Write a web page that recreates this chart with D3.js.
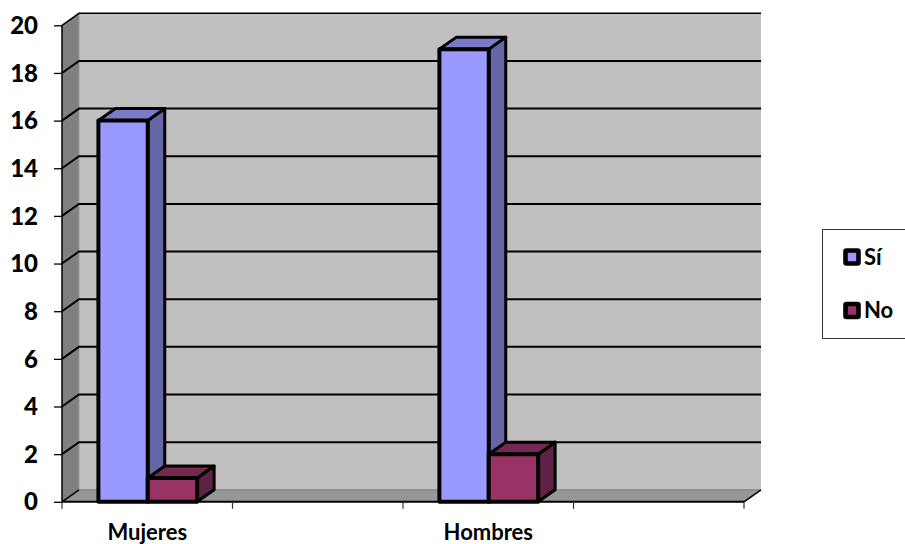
<!DOCTYPE html>
<html><head><meta charset="utf-8">
<script src="https://cdn.jsdelivr.net/npm/d3@7"></script>
<style>html,body{margin:0;padding:0;background:#fff}svg{display:block}text{font-family:Lato,"Open Sans",sans-serif;font-weight:700;fill:#000}</style>
</head><body><svg id="c" width="905" height="544"></svg>
<script>
const categories = ["Mujeres", " ", "Hombres", "  "];
const seriesNames = ["Sí", "No"];
const siValues = [16, null, 19, null];
const noValues = [1, null, 2, null];
const yTicks = [0,2,4,6,8,10,12,14,16,18,20];

const colors = {
  "Sí": {front:"#9999ff", top:"#7a7ac8", side:"#6666a6"},
  "No": {front:"#993366", top:"#752850", side:"#5f2145"}
};
const dx = 17, dy = -12;
const svg = d3.select("#c");
const x = d3.scaleBand().domain(categories).range([62,744]);
const y = d3.scaleLinear().domain([0,20]).range([501.8,25.3]);
const inner = d3.scaleBand().domain(seriesNames).range([x.bandwidth()*0.2135, x.bandwidth()*0.7925]);
const L=x.range()[0], R=x.range()[1], B=y(0), T=y(20);
const poly=(pts,fill,stroke,sw)=>svg.append("polygon").attr("points",pts.map(p=>p.join(",")).join(" "))
  .attr("fill",fill).attr("stroke",stroke||"none").attr("stroke-width",sw||0).attr("stroke-linejoin","round");

// walls
poly([[L+dx,T+dy],[R+dx,T+dy],[R+dx,B+dy],[L+dx,B+dy]],"#c0c0c0");
poly([[L,T],[L+dx,T+dy],[L+dx,B+dy],[L,B]],"#808080");
poly([[L,B],[L+dx,B+dy],[R+dx,B+dy],[R,B]],"#969696");
svg.append("line").attr("x1",L+dx).attr("x2",L+dx).attr("y1",T+dy).attr("y2",B+dy).attr("stroke","#9a9a9a").attr("stroke-width",1);
svg.append("line").attr("x1",L+dx).attr("x2",R+dx).attr("y1",B+dy).attr("y2",B+dy).attr("stroke","#7a7a7a").attr("stroke-width",1);

// gridlines
yTicks.forEach(t=>{
  if(t===0) return;
  svg.append("polyline").attr("fill","none").attr("stroke","#000").attr("stroke-width",t===20?1.5:2)
    .attr("points",[[L,y(t)],[L+dx,y(t)+dy],[R+dx,y(t)+dy]].map(p=>p.join(",")).join(" "));
});
svg.append("polyline").attr("fill","none").attr("stroke","#000").attr("stroke-width",1.5)
  .attr("points",[[L,B],[L+dx,B+dy]].map(p=>p.join(",")).join(" "));
svg.append("polyline").attr("fill","none").attr("stroke","#000").attr("stroke-width",1.5)
  .attr("points",[[R,B],[R+dx,B+dy]].map(p=>p.join(",")).join(" "));

// axes
const yAxis = d3.axisLeft(y).tickValues(yTicks).tickSize(8).tickPadding(16).tickFormat(d3.format("d"));
const gy = svg.append("g").attr("transform",`translate(${L},0)`).call(yAxis);
gy.select(".domain").attr("stroke","#000").attr("stroke-width",1.5).attr("d",`M0,${T}V${B}`);
gy.selectAll(".tick line").attr("stroke","#000").attr("stroke-width",1.3);
gy.selectAll("text").style("font-size","24px").style("font-weight","900").attr("dy","0.34em");

const gx = svg.append("g").attr("transform",`translate(0,${B})`);
gx.append("line").attr("x1",L).attr("x2",R).attr("stroke","#000").attr("stroke-width",2);
const xEdges = categories.map(c=>x(c)).concat([R]);
gx.selectAll("line.t").data(xEdges).join("line").attr("class","t")
  .attr("x1",d=>d).attr("x2",d=>d).attr("y1",0).attr("y2",7).attr("stroke","#333").attr("stroke-width",1.2);
gx.selectAll("text").data(categories).join("text")
  .attr("x",d=>x(d)+x.bandwidth()/2).attr("y",38).attr("text-anchor","middle")
  .style("font-size","22px").text(d=>d.trim());

// bars
const rows = seriesNames.map((s,i)=>({s,vals:i===0?siValues:noValues}));
categories.forEach((c,ci)=>{
  rows.forEach(r=>{
    const v=r.vals[ci]; if(v==null) return;
    const x0=x(c)+inner(r.s), x1=x0+inner.bandwidth(), y1=y(v), col=colors[r.s];
    poly([[x1,y1],[x1+dx,y1+dy],[x1+dx,B+dy],[x1,B]],col.side,"#000",3);
    poly([[x0,y1],[x0+dx,y1+dy],[x1+dx,y1+dy],[x1,y1]],col.top,"#000",3);
    poly([[x0,y1],[x1,y1],[x1,B],[x0,B]],col.front,"#000",4);
  });
});

// legend
svg.append("rect").attr("x",822.5).attr("y",229.5).attr("width",90).attr("height",109)
  .attr("fill","#fff").attr("stroke","#333").attr("stroke-width",1);
const legY = d3.scalePoint().domain(seriesNames).range([257,310.5]);
seriesNames.forEach(s=>{
  svg.append("rect").attr("x",845.5).attr("y",legY(s)-6.5).attr("width",13).attr("height",13)
    .attr("fill",colors[s].front).attr("stroke","#000").attr("stroke-width",4.6).attr("rx",1);
  svg.append("text").attr("x",864).attr("y",legY(s)).attr("dy","0.36em").style("font-size","22px").text(s);
});
</script></body></html>
